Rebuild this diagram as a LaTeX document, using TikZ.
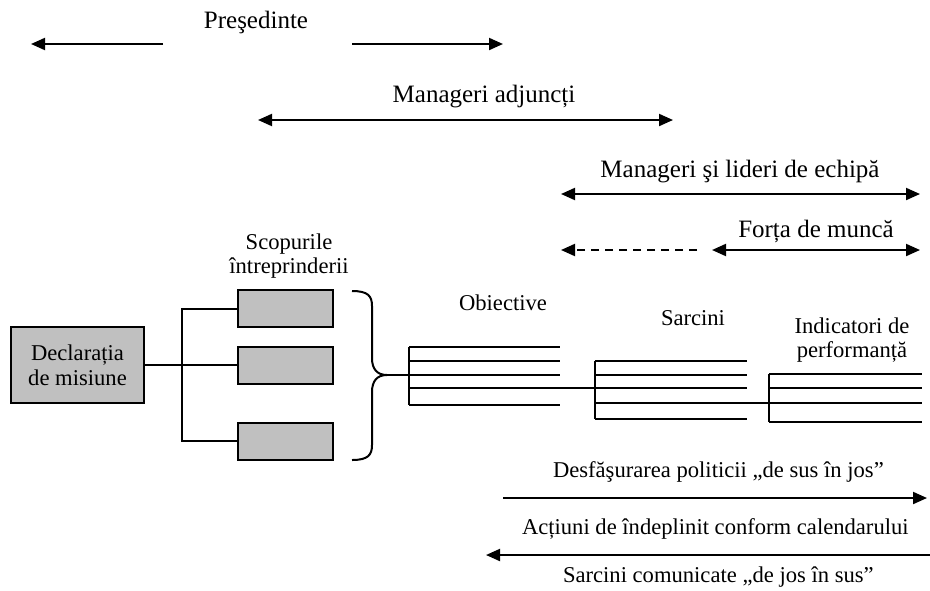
\documentclass[tikz,border=0pt]{standalone}
\usepackage{fontspec}
\setmainfont{Liberation Serif}
\usetikzlibrary{arrows.meta}
\definecolor{boxgray}{RGB}{192,192,192}
\begin{document}
\begin{tikzpicture}[x=0.5pt,y=-0.5pt,line width=1pt,
  lbl/.style={font=\fontsize{11.3}{12.4}\selectfont, inner sep=0pt, align=center},
  toplbl/.style={font=\fontsize{12.5}{14}\selectfont, inner sep=0pt, align=center},
  arr/.style={-{Triangle[length=7pt,width=6pt]}},
  darr/.style={{Triangle[length=7pt,width=6pt]}-{Triangle[length=7pt,width=6pt]}},
  gbox/.style={draw, fill=boxgray, minimum width=47.5pt, minimum height=18.5pt, inner sep=0pt}]
\useasboundingbox (0,0) rectangle (930,590);

% ---- top level arrows and labels
\node[toplbl] (pres) at (256,22) {Preşedinte};
\coordinate (p1s) at (163,44); \coordinate (p1e) at (31,44);
\coordinate (p2s) at (352,44); \coordinate (p2e) at (503,44);
\draw[arr] (p1s) -- (p1e);
\draw[arr] (p2s) -- (p2e);

\node[toplbl] (madj) at (484,97) {Manageri adjuncți};
\coordinate (ma1) at (258,120); \coordinate (ma2) at (673,120);
\draw[darr] (ma1) -- (ma2);

\node[toplbl] (mlid) at (740,172) {Manageri şi lideri de echipă};
\coordinate (ml1) at (561,194); \coordinate (ml2) at (920,194);
\draw[darr] (ml1) -- (ml2);

\node[toplbl] (forta) at (816,231) {Forța de muncă};
\coordinate (fd1) at (697,250); \coordinate (fd2) at (561,250);
\coordinate (fs1) at (712,250); \coordinate (fs2) at (920,250);
\draw[arr,dash pattern=on 4pt off 3pt] (fd1) -- (fd2);
\draw[darr] (fs1) -- (fs2);

% ---- mission and goals
\node[lbl] (scop) at (289,256) {Scopurile\\întreprinderii};
\node[gbox, minimum width=66.5pt, minimum height=38pt, lbl, inner sep=0pt] (decl) at (77.5,365) {Declarația\\de misiune};
\node[gbox] (g1) at (285.5,308.5) {};
\node[gbox] (g2) at (285.5,365) {};
\node[gbox] (g3) at (285.5,441) {};
\coordinate (tx) at (182,0);
\draw (decl.east) -- (g2.west);
\draw (g1.west) -- (g1.west -| tx) |- (g3.west);

% ---- brace
\coordinate (btop) at (352,291);
\coordinate (btip) at (387,375);
\coordinate (bbot) at (352,460);
\draw (btop) .. controls (368,291) and (372,296) .. (372,306) -- (372,358)
  .. controls (372,369) and (377,375) .. (btip)
  .. controls (377,375) and (372,381) .. (372,392) -- (372,445)
  .. controls (372,455) and (368,460) .. (bbot);

% ---- objectives
\node[lbl] (obj) at (503,303) {Obiective};
\draw (409,347) -- (409,405);
\foreach \y in {347,361,388,405} \draw (409,\y) -- (560,\y);
\coordinate (o3e) at (560,375);
\draw (btip) -- (o3e);
\coordinate (o4e) at (560,388);
\coordinate (s3s) at (595,388);
\draw (o4e) -- (s3s);

% ---- tasks
\node[lbl] (sarc) at (693,318) {Sarcini};
\draw (595,361) -- (595,419);
\foreach \y in {361,375,388,403,419} \draw (595,\y) -- (747,\y);
\coordinate (s4e) at (747,403);
\coordinate (i3s) at (769,403);
\draw (s4e) -- (i3s);

% ---- indicators
\node[lbl] (ind) at (852,340) {Indicatori de\\performanță};
\draw (769,374) -- (769,422);
\foreach \y in {374,388,403,422} \draw (769,\y) -- (922,\y);

% ---- bottom arrows
\node[lbl, anchor=west] (desf) at (552,472) {Desfăşurarea politicii „de sus în jos”};
\coordinate (d1) at (503,498); \coordinate (d2) at (927,498);
\draw[arr] (d1) -- (d2);
\node[lbl, anchor=west] (act) at (521,529) {Acțiuni de îndeplinit conform calendarului};
\coordinate (a1) at (930,555); \coordinate (a2) at (486,555);
\draw[arr] (a1) -- (a2);
\node[lbl, anchor=west] (scom) at (562,577) {Sarcini comunicate „de jos în sus”};
\end{tikzpicture}
\end{document}
